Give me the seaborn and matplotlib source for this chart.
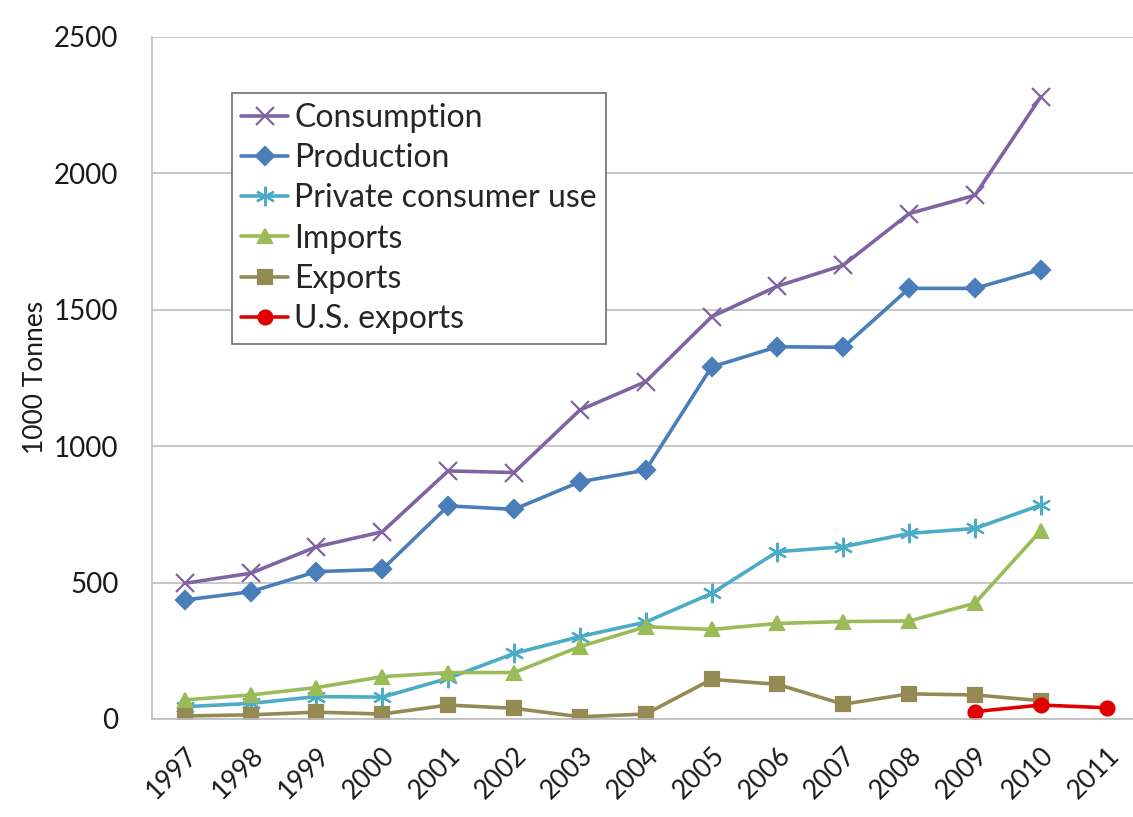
import matplotlib
matplotlib.use("Agg")
import matplotlib.pyplot as plt
import seaborn as sns
import numpy as np
import pandas as pd

years = ["1997", "1998", "1999", "2000", "2001", "2002", "2003", "2004",
         "2005", "2006", "2007", "2008", "2009", "2010", "2011"]

consumption = [497, 534, 631, 686, 909, 903, 1132, 1236, 1474, 1586, 1663, 1852, 1919, 2280, np.nan]
production = [436, 466, 540, 548, 781, 768, 869, 912, 1290, 1364, 1362, 1578, 1578, 1647, np.nan]
private_use = [45, 57, 82, 80, 149, 240, 302, 355, 460, 613, 631, 680, 698, 784, np.nan]
imports = [70, 88, 115, 155, 170, 170, 265, 338, 328, 350, 357, 359, 424, 690, np.nan]
exports = [11, 15, 25, 18, 51, 39, 8, 18, 145, 127, 54, 92, 88, 67, np.nan]
us_exports = [np.nan] * 12 + [27, 51, 41]

series_names = ["Consumption", "Production", "Private consumer use", "Imports", "Exports", "U.S. exports"]
series_values = [consumption, production, private_use, imports, exports, us_exports]

colors = ["#8064A2", "#4A7EBB", "#4BACC6", "#9BBB59", "#948A54", "#E00000"]
markers = ["x", "D", (6, 2, 0), "^", "s", "o"]
msizes = [13, 9, 14, 10, 10, 10]

sns.set_theme(style="white")
plt.rcParams["font.family"] = ["Lato", "DejaVu Sans"]

fig = plt.figure(figsize=(11.33, 8.17), dpi=100)
ax = fig.add_axes([0.134, 0.12, 0.866, 0.835])

x = np.arange(len(years))
for name, vals, c, m, ms in zip(series_names, series_values, colors, markers, msizes):
    df = pd.DataFrame({"x": x, "y": vals}).dropna()
    sns.lineplot(data=df, x="x", y="y", ax=ax, color=c, linewidth=2.6,
                 marker=m, markersize=ms, markeredgecolor=c, markerfacecolor=c,
                 markeredgewidth=1.6, label=name, sort=False)

ax.set_xlim(-0.5, 14.4)
ax.set_ylim(0, 2500)
ax.set_yticks([0, 500, 1000, 1500, 2000, 2500])
ax.set_xticks(x)
ax.set_xticklabels(years, rotation=45, ha="right", rotation_mode="anchor")
ax.tick_params(axis="both", length=0, labelsize=20, colors="#1a1a1a")
ax.tick_params(axis="x", pad=17, labelsize=19)
ax.tick_params(axis="y", pad=24)
ax.yaxis.grid(True, color="#BDBDBD", linewidth=1.2)
ax.set_axisbelow(True)
for s in ["top", "right"]:
    ax.spines[s].set_visible(False)
for s in ["left", "bottom"]:
    ax.spines[s].set_color("#BDBDBD")
    ax.spines[s].set_linewidth(1.2)

ax.set_xlabel("")
ax.set_ylabel("1000 Tonnes", fontsize=19, color="#1a1a1a", labelpad=4)

leg = ax.legend(loc="upper left", bbox_to_anchor=(0.0815, 0.917), fontsize=23,
                frameon=True, fancybox=False, framealpha=1, edgecolor="#6e6e6e",
                handlelength=1.45, handletextpad=0.2, labelspacing=0.32,
                borderpad=0.3, borderaxespad=0)
leg.get_frame().set_linewidth(1.2)

fig.savefig("out.png", dpi=100)
